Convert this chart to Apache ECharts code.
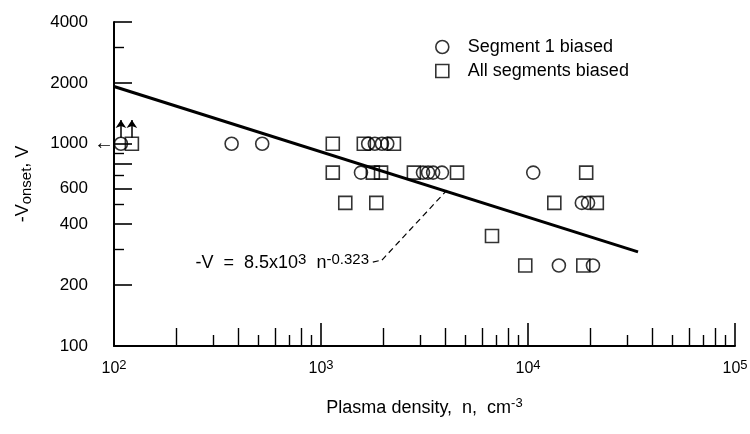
<!DOCTYPE html>
<html>
<head>
<meta charset="utf-8">
<script src="https://cdn.jsdelivr.net/npm/echarts@6/dist/echarts.min.js"></script>
<style>html,body{margin:0;padding:0;background:#fff}#c{width:750px;height:434px}</style>
</head>
<body>
<div id="c"></div>
<script>
// ---- data ----
const circleN = [108, 370, 520, 1690, 1820, 1970, 2090, 1560, 3110, 3290, 3480, 3840, 10600, 18200, 19500, 14100, 20600];
const circleV = [1000, 1000, 1000, 1000, 1000, 1000, 1000, 720, 720, 720, 720, 720, 720, 510, 510, 250, 250];
const squareN = [122, 1140, 1610, 2250, 1140, 1780, 1950, 2810, 4540, 19100, 1310, 1850, 13400, 21500, 6700, 9700, 18500];
const squareV = [1000, 1000, 1000, 1000, 720, 720, 720, 720, 720, 720, 510, 510, 510, 510, 350, 250, 250];
const fitN = [100, 34000];
const fitV = [1920, 292];
const arrowN = [108, 122];          // lower-limit arrows at the lowest density
const arrowFromV = [1070, 1070];
const arrowToV = [1310, 1310];
const xMajorTicks = [100, 1000, 10000, 100000];
const xLongMinorTicks = [200, 400, 600, 800, 2000, 4000, 6000, 8000, 20000, 40000, 60000, 80000];
const xShortMinorTicks = [300, 500, 700, 900, 3000, 5000, 7000, 9000, 30000, 50000, 70000, 90000];
const yTickLabels = [100, 200, 400, 600, 1000, 2000, 4000];
const yLongTicks = [200, 400, 600, 800, 1000, 2000, 4000];
const yShortTicks = [300, 500, 700, 900, 3000];
const seriesNames = ['Segment 1 biased', 'All segments biased'];

// ---- chart ----
const FONT = "'Liberation Sans', Arial, sans-serif";
const pairs = (a, b) => a.map((v, i) => [v, b[i]]);
const lg = v => Math.log10(v);
const chart = echarts.init(document.getElementById('c'), null, {renderer: 'canvas'});

const hiddenAxisBits = {
  axisLine: {show: false, onZero: false},
  splitLine: {show: false},
  minorTick: {show: false},
  minorSplitLine: {show: false}
};

const xMin = 100, xMax = 100000, yMin = 100, yMax = 4000;

const option = {
  animation: false,
  backgroundColor: '#fff',
  textStyle: {fontFamily: FONT, color: '#000'},
  grid: {left: 114, right: 15, top: 22, bottom: 88, containLabel: false, outerBoundsMode: 'none'},
  legend: {
    orient: 'vertical',
    left: 435, top: 37,
    padding: 0,
    itemGap: 4,
    itemWidth: 13, itemHeight: 13,
    selectedMode: false,
    data: [{name: seriesNames[0], icon: 'circle'}, {name: seriesNames[1], icon: 'rect'}],
    itemStyle: {color: 'rgba(0,0,0,0)', borderColor: '#000', borderWidth: 1.6},
    textStyle: {fontFamily: FONT, fontSize: 18, color: '#000', lineHeight: 20, padding: [0, 0, 0, 14]}
  },
  xAxis: [
    {
      type: 'log', logBase: 10, min: xMin, max: xMax, position: 'bottom',
      axisLine: {show: true, onZero: false, lineStyle: {color: '#000', width: 2}},
      axisTick: {show: false}, axisLabel: {show: false},
      splitLine: {show: false}, minorTick: {show: false},
      name: '{m|Plasma density,  n,  cm}{s|-3}',
      nameLocation: 'middle', nameGap: 51,
      nameTextStyle: {
        rich: {
          m: {fontFamily: FONT, fontSize: 18, lineHeight: 20, padding: [4, 0, 0, 0], verticalAlign: 'bottom', color: '#000'},
          s: {fontFamily: FONT, fontSize: 13, lineHeight: 12, verticalAlign: 'top', color: '#000'}
        }
      }
    },
    Object.assign({
      type: 'value', min: lg(xMin), max: lg(xMax), position: 'bottom',
      axisTick: {show: true, inside: true, length: 23, customValues: xMajorTicks.map(lg), lineStyle: {color: '#000', width: 1.6}},
      axisLabel: {
        show: true, margin: 13, customValues: xMajorTicks.map(lg),
        formatter: v => '{b|10}{s|' + Math.round(v) + '}',
        rich: {
          b: {fontFamily: FONT, fontSize: 16, lineHeight: 18, padding: [6, 0, 0, 0], verticalAlign: 'bottom', color: '#000'},
          s: {fontFamily: FONT, fontSize: 13, lineHeight: 14, verticalAlign: 'top', color: '#000'}
        }
      }
    }, hiddenAxisBits),
    Object.assign({
      type: 'value', min: lg(xMin), max: lg(xMax), position: 'bottom',
      axisTick: {show: true, inside: true, length: 18, customValues: xLongMinorTicks.map(lg), lineStyle: {color: '#000', width: 1.4}},
      axisLabel: {show: false}
    }, hiddenAxisBits),
    Object.assign({
      type: 'value', min: lg(xMin), max: lg(xMax), position: 'bottom',
      axisTick: {show: true, inside: true, length: 11, customValues: xShortMinorTicks.map(lg), lineStyle: {color: '#000', width: 1.4}},
      axisLabel: {show: false}
    }, hiddenAxisBits)
  ],
  yAxis: [
    {
      type: 'log', logBase: 10, min: yMin, max: yMax, position: 'left',
      axisLine: {show: true, onZero: false, lineStyle: {color: '#000', width: 2}},
      axisTick: {show: false}, axisLabel: {show: false},
      splitLine: {show: false}, minorTick: {show: false},
      name: '{m|-V}{s|onset}{m|, V}',
      nameLocation: 'middle', nameRotate: 90, nameGap: 80,
      nameTextStyle: {
        rich: {
          m: {fontFamily: FONT, fontSize: 18, lineHeight: 20, verticalAlign: 'top', color: '#000'},
          s: {fontFamily: FONT, fontSize: 15, lineHeight: 14, padding: [11, 0, 0, 0], verticalAlign: 'bottom', color: '#000'}
        }
      }
    },
    Object.assign({
      type: 'value', min: lg(yMin), max: lg(yMax), position: 'left',
      axisTick: {show: true, inside: true, length: 18, customValues: yLongTicks.map(lg), lineStyle: {color: '#000', width: 1.6}},
      axisLabel: {
        show: true, margin: 26, customValues: yTickLabels.map(lg),
        formatter: v => String(Math.round(Math.pow(10, v))),
        fontFamily: FONT, fontSize: 17, color: '#000'
      }
    }, hiddenAxisBits),
    Object.assign({
      type: 'value', min: lg(yMin), max: lg(yMax), position: 'left',
      axisTick: {show: true, inside: true, length: 10, customValues: yShortTicks.map(lg), lineStyle: {color: '#000', width: 1.4}},
      axisLabel: {
        show: true, margin: 0, customValues: [lg(1000)],
        formatter: () => '\u2190',
        fontFamily: FONT, fontSize: 20, color: '#000'
      }
    }, hiddenAxisBits)
  ],
  series: [
    {
      name: seriesNames[0], type: 'scatter', xAxisIndex: 0, yAxisIndex: 0,
      symbol: 'circle', symbolSize: 13,
      itemStyle: {color: 'rgba(0,0,0,0)', borderColor: '#000', borderWidth: 1.6},
      emphasis: {disabled: true},
      data: pairs(circleN, circleV),
      z: 3,
      markLine: {
        silent: true, animation: false,
        symbol: ['none', 'arrow'], symbolSize: 8,
        label: {show: false},
        lineStyle: {color: '#000', width: 1.5, type: 'solid'},
        data: arrowN.map((n, i) => [{coord: [n, arrowFromV[i]]}, {coord: [n, arrowToV[i]]}])
      }
    },
    {
      name: seriesNames[1], type: 'scatter', xAxisIndex: 0, yAxisIndex: 0,
      symbol: 'rect', symbolSize: 13,
      itemStyle: {color: 'rgba(0,0,0,0)', borderColor: '#000', borderWidth: 1.6},
      emphasis: {disabled: true},
      data: pairs(squareN, squareV),
      z: 3
    },
    {
      name: 'fit', type: 'line', xAxisIndex: 0, yAxisIndex: 0,
      symbol: 'none', silent: true,
      lineStyle: {color: '#000', width: 3},
      data: pairs(fitN, fitV),
      z: 2,
      markLine: {
        silent: true, animation: false,
        symbol: ['none', 'none'],
        label: {show: false},
        lineStyle: {color: '#000', width: 1.2, type: [6, 4]},
        data: [
          [{coord: [1780, 260]}, {coord: [1970, 266]}],
          [{coord: [1970, 266]}, {coord: [4060, 590]}]
        ]
      },
      markPoint: {
        silent: true, animation: false,
        symbol: 'circle', symbolSize: 0,
        data: [{coord: [1744, 259]}],
        label: {
          show: true, position: 'left', distance: 2,
          formatter: '{m|-V  =  8.5x10}{s|3}{m|  n}{s|-0.323}',
          rich: {
            m: {fontFamily: FONT, fontSize: 18, lineHeight: 20, padding: [5, 0, 0, 0], verticalAlign: 'bottom', color: '#000'},
            s: {fontFamily: FONT, fontSize: 15, lineHeight: 14, verticalAlign: 'top', color: '#000'}
          }
        }
      }
    }
  ]
};
chart.setOption(option);
</script>
</body>
</html>
